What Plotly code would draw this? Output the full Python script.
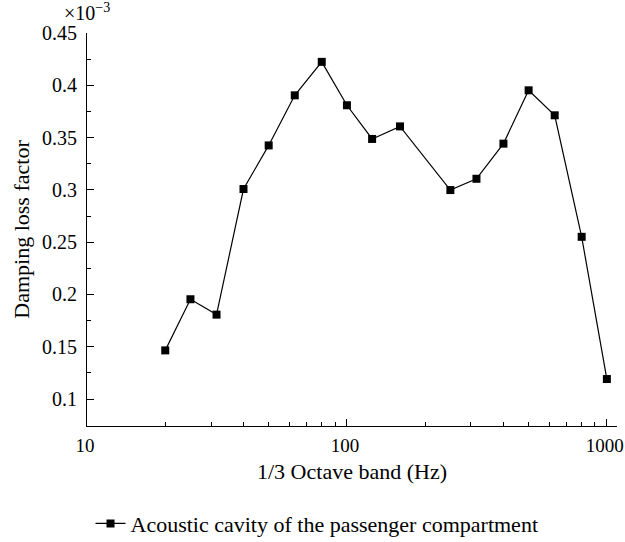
import plotly.graph_objects as go

freq_hz = [20, 25, 31.5, 40, 50, 63, 80, 100, 125, 160, 250, 315, 400, 500, 630, 800, 1000]
loss_factor_e3 = [0.1465, 0.1954, 0.1807, 0.3008, 0.3425, 0.3904, 0.4224, 0.3809, 0.3487, 0.3607,
                  0.2998, 0.3106, 0.3442, 0.3952, 0.3713, 0.2551, 0.1191]
series_name = "Acoustic cavity of the passenger compartment"

y_tickvals = [0.1, 0.15, 0.2, 0.25, 0.3, 0.35, 0.4, 0.45]
y_ticktext = ["0.1", "0.15", "0.2", "0.25", "0.3", "0.35", "0.4", "0.45"]
y_minor = [0.125, 0.175, 0.225, 0.275, 0.325, 0.375, 0.425]
x_tickvals = [10, 100, 1000]
x_ticktext = ["10", "100", "1000"]
x_minor = [20, 30, 40, 50, 60, 70, 80, 90, 200, 300, 400, 500, 600, 700, 800, 900]

FONT = "Liberation Serif"

fig = go.Figure()
fig.add_trace(go.Scatter(
    x=freq_hz, y=loss_factor_e3, mode="lines+markers", name=series_name,
    line=dict(color="black", width=1.2),
    marker=dict(symbol="square", size=8, color="black"),
))

fig.update_layout(
    width=625, height=542,
    margin=dict(l=87, r=8, t=33, b=116, autoexpand=False),
    plot_bgcolor="white", paper_bgcolor="white",
    font=dict(family=FONT, size=22, color="black"),
    showlegend=True,
    legend=dict(orientation="h", x=0.434, xanchor="center", y=-0.195, yanchor="top",
                font=dict(family=FONT, size=22), itemwidth=30,
                bgcolor="rgba(0,0,0,0)"),
    annotations=[dict(text="×10<sup>−3</sup>", x=0.0, xref="paper", xanchor="center",
                      y=1.0, yref="paper", yanchor="middle", yshift=21,
                      showarrow=False, font=dict(family=FONT, size=20))],
)

fig.update_xaxes(
    type="log", range=[1.0, 3.039], automargin=False,
    tickmode="array", tickvals=x_tickvals, ticktext=x_ticktext,
    ticks="inside", ticklen=7, tickwidth=1, tickcolor="black",
    showline=True, linecolor="black", linewidth=1.2,
    showgrid=False, zeroline=False, ticklabeloverflow="allow",
    minor=dict(tickmode="array", tickvals=x_minor, ticks="inside", ticklen=4,
               tickcolor="black", showgrid=False),
    title=dict(text="1/3 Octave band (Hz)", standoff=8, font=dict(size=22)),
    tickfont=dict(size=19), ticklabelstandoff=2, ticklabelshift=-2,
)
fig.update_yaxes(
    range=[0.0742, 0.45], automargin=False,
    tickmode="array", tickvals=y_tickvals, ticktext=y_ticktext,
    ticks="inside", ticklen=7, tickwidth=1, tickcolor="black",
    showline=True, linecolor="black", linewidth=1.2,
    showgrid=False, zeroline=False, ticklabeloverflow="allow",
    minor=dict(tickmode="array", tickvals=y_minor, ticks="inside", ticklen=4,
               tickcolor="black", showgrid=False),
    title=dict(text="Damping loss factor", standoff=6, font=dict(size=22)),
    tickfont=dict(size=20), ticklabelstandoff=5,
)

fig.write_html("out.html")
